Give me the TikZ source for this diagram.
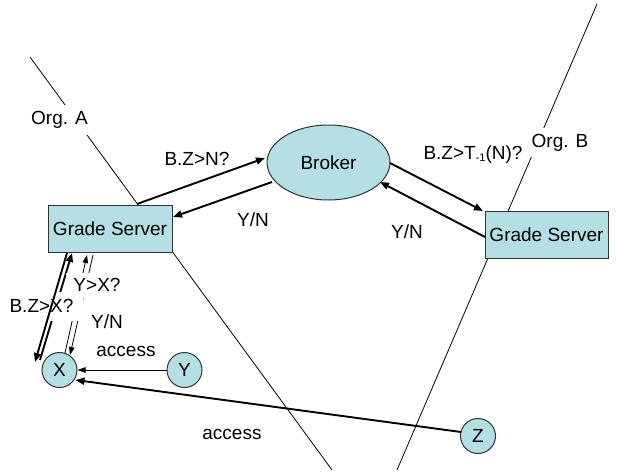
\documentclass[tikz,border=0pt]{standalone}
\usepackage{fontspec}
\setmainfont{Liberation Sans}
\usetikzlibrary{arrows.meta,shapes.geometric}
\definecolor{boxfill}{RGB}{180,223,228}
\tikzset{
  txt/.style={font=\fontsize{19}{21}\selectfont, inner sep=0pt},
  server/.style={draw=black!80, line width=1pt, fill=boxfill, minimum width=124pt, minimum height=47pt, inner sep=0pt, font=\fontsize{19}{21}\selectfont},
  actor/.style={circle, draw=black!80, line width=1pt, fill=boxfill, minimum size=35pt, inner sep=0pt, font=\fontsize{19}{21}\selectfont},
  thickarrow/.style={line width=1.9pt, -{Triangle[length=9pt,width=7pt]}},
  thinarrow/.style={line width=0.8pt, -{Triangle[length=8pt,width=5.5pt]}},
  boundary/.style={line width=0.8pt},
  whitebg/.style={fill=white, inner sep=0pt, font=\fontsize{19}{21}\selectfont}
}
\begin{document}
\begin{tikzpicture}[x=1pt,y=-1pt]
\useasboundingbox (0,0) rectangle (619,474);
% organisation boundaries
\coordinate (a1) at (30,57);
\coordinate (a2) at (332,470);
\coordinate (b1) at (597,4);
\coordinate (b2) at (397,470);
\draw[boundary] (a1) -- (a2);
\draw[boundary] (b1) -- (b2);
% nodes
\node[server] (gsa) at (110,228.5) {Grade Server};
\node[server, minimum width=123pt] (gsb) at (546.5,234.5) {Grade Server};
\node[ellipse, draw=black!80, line width=1pt, fill=boxfill, minimum width=123pt, minimum height=75pt, inner sep=0pt, font=\fontsize{19}{21}\selectfont] (broker) at (328.5,162.5) {Broker};
\node[actor] (xx) at (59.5,370) {X};
\node[actor] (yy) at (184.5,370) {Y};
\node[actor] (zz) at (478,436) {Z};
% broker arrows
\draw[thickarrow] ([shift={(27,-24.5)}]gsa.center) -- ([shift={(-63.5,-4.5)}]broker.center);
\draw[thickarrow] ([shift={(-56.5,19.5)}]broker.center) -- ([shift={(63,-11.5)}]gsa.center);
\draw[thickarrow] ([shift={(61.5,0.5)}]broker.center) -- ([shift={(-63.5,-23.5)}]gsb.center);
\draw[thickarrow] ([shift={(-61.5,2.5)}]gsb.center) -- ([shift={(51.5,19.5)}]broker.center);
% X <-> grade server A
\draw[thickarrow] ([shift={(-19.5,-10)}]xx.center) -- ([shift={(-38,24.5)}]gsa.center);
\draw[thinarrow] ([shift={(5.5,-17)}]xx.center) -- ([shift={(-23,26.5)}]gsa.center);
\draw[thinarrow] ([shift={(-17,26.5)}]gsa.center) -- ([shift={(10.5,-15)}]xx.center);
% access arrows
\draw[thinarrow] (yy.west) -- (xx.east);
\draw[thickarrow] ([shift={(-17,-4)}]zz.center) -- ([shift={(16,10)}]xx.center);
% labels
\node[whitebg, minimum width=65pt, minimum height=30pt] (orga) at (59.5,120) {Org. A};
\node[whitebg, minimum width=70pt, minimum height=29pt] (orgb) at (560,142.5) {Org. B};
\node[whitebg, minimum width=83pt, minimum height=29pt] (lbzx) at (41.5,306) {B.Z>X?};
\node[whitebg, minimum width=62pt, minimum height=25pt] (lyx) at (97,285) {Y>X?};
\draw[thickarrow] ([shift={(-43,24.5)}]gsa.center) -- ([shift={(-24.5,-8)}]xx.center);
\node[txt] (lbzn) at (197,159) {B.Z>N?};
\node[txt] (lyn1) at (253,220) {Y/N};
\node[txt] (lbzt) at (473,155) {B.Z>T\raisebox{-2pt}{\fontsize{11}{12}\selectfont-1}(N)?};
\node[txt] (lyn2) at (407,232) {Y/N};
\node[txt] (lyn3) at (107,322) {Y/N};
\node[txt] (lacc1) at (126,351) {access};
\node[txt] (lacc2) at (232,434) {access};
\end{tikzpicture}
\end{document}
